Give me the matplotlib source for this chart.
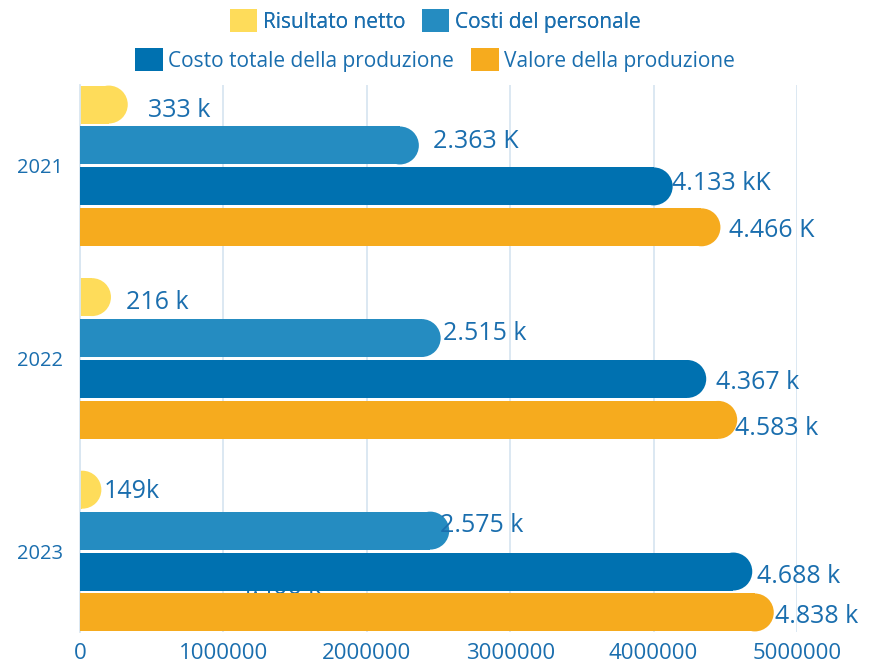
import matplotlib
matplotlib.use("Agg")
import matplotlib.pyplot as plt
from matplotlib.patches import Ellipse, Patch

plt.rcParams['font.family'] = ['Open Sans', 'DejaVu Sans']

# ---- data ----
years = ["2021", "2022", "2023"]
series_names = ["Risultato netto", "Costi del personale",
                "Costo totale della produzione", "Valore della produzione"]
risultato_netto = [333000, 216000, 149000]
costi_personale = [2363000, 2515000, 2575000]
costo_totale = [4133000, 4367000, 4688000]
valore_produzione = [4466000, 4583000, 4838000]
labels_risultato = ["333 k", "216 k", "149k"]
labels_personale = ["2.363 K", "2.515 k", "2.575 k"]
labels_costo = ["4.133 kK", "4.367 k", "4.688 k"]
labels_valore = ["4.466 K", "4.583 k", "4.838 k"]
stray_label = "4.406 k"
x_ticks = [0, 1000000, 2000000, 3000000, 4000000, 5000000]

# ---- style ----
colors = ["#fedc5a", "#258cc1", "#0071b0", "#f6ab1e"]
text_color = "#1a6eae"
grid_color = "#d9e6f1"

# label offsets in pixels (dx right, dy down) relative to bar end / bar centre
label_offsets = [
    [(20, 3), (15, 3), (2, -1)],
    [(14, -6), (2, -7), (-9, -8)],
    [(-1, -5), (10, 1), (5, 2)],
    [(9, 1), (-2, 6), (1, 2)],
]

W, H = 879, 666
fig = plt.figure(figsize=(W / 100, H / 100), dpi=100)
ax_left, ax_right, ax_top, ax_bottom = 80, 797, 85, 632
ax = fig.add_axes([ax_left / W, 1 - ax_bottom / H,
                   (ax_right - ax_left) / W, (ax_bottom - ax_top) / H])

pitch = 0.2125
bar_h = 0.197
half_extent = 1.5 * pitch + bar_h / 2 + 0.003
ax.set_xlim(0, 5000000)
ax.set_ylim(len(years) - 1 + half_extent, -half_extent)

px_per_x = (ax_right - ax_left) / 5000000
px_per_y = (ax_bottom - ax_top) / (len(years) - 1 + 2 * half_extent)
r_px = bar_h * px_per_y / 2
r_data = r_px / px_per_x

all_values = [risultato_netto, costi_personale, costo_totale, valore_produzione]
all_labels = [labels_risultato, labels_personale, labels_costo, labels_valore]

for s, (vals, labs, col) in enumerate(zip(all_values, all_labels, colors)):
    offs = (s - 1.5) * pitch
    ys = [i + offs for i in range(len(years))]
    widths = [max(v - r_data, 0) for v in vals]
    ax.barh(ys, widths, height=bar_h, color=col, linewidth=0, zorder=2 + s)
    for v, y in zip(vals, ys):
        ax.add_patch(Ellipse((max(v - r_data, 0), y), 2 * r_data, bar_h,
                             facecolor=col, linewidth=0, zorder=2 + s))
    for i, (v, y, lab) in enumerate(zip(vals, ys, labs)):
        dx, dy = label_offsets[s][i]
        ax.annotate(lab, xy=(v, y), xytext=(dx * 0.72, -(dy + 9) * 0.72),
                    textcoords="offset points", ha="left", va="baseline",
                    fontsize=18, color=text_color, zorder=10)

# stray label, hidden behind the bars except for the thin gap
ax.annotate(stray_label, xy=(0, 2 + 0.5 * pitch), xytext=(158 * 0.72, -22 * 0.72),
            textcoords="offset points", ha="left", va="baseline",
            fontsize=18, color=text_color, zorder=1.5)

ax.set_yticks(range(len(years)))
ax.set_yticklabels(years)
ax.set_xticks(x_ticks)
ax.set_xticklabels([str(t) for t in x_ticks])
ax.tick_params(axis="x", length=0, pad=8, labelsize=16, labelcolor=text_color)
ax.tick_params(axis="y", length=0, pad=12, labelsize=14.5, labelcolor=text_color)
ax.grid(axis="x", color=grid_color, linewidth=1.3, zorder=0)
ax.set_axisbelow(True)
for sp in ["top", "right", "bottom"]:
    ax.spines[sp].set_visible(False)
ax.spines["left"].set_color(grid_color)
ax.spines["left"].set_linewidth(1.3)

handles = [Patch(facecolor=c, edgecolor="none") for c in colors]
leg_kw = dict(frameon=False, fontsize=15, handlelength=1.33, handleheight=1.3,
              handletextpad=0.25, columnspacing=0.8, borderpad=0, borderaxespad=0,
              labelcolor=text_color, ncol=2, loc="center")
leg1 = fig.legend(handles[:2], series_names[:2], bbox_to_anchor=(435 / W, 1 - 21 / H), **leg_kw)
fig.add_artist(leg1)
fig.legend(handles[2:], series_names[2:], bbox_to_anchor=(435 / W, 1 - 60 / H), **leg_kw)

fig.savefig("out.png", dpi=100)
